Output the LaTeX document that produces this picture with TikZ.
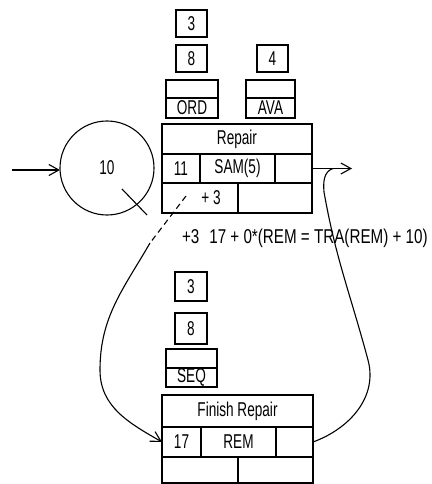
\documentclass[tikz,border=0pt]{standalone}
\usepackage{fontspec}
\setmainfont{Liberation Sans}[FakeStretch=0.68]
\newfontfamily\exprfont{Liberation Sans}[FakeStretch=0.76]
\usetikzlibrary{arrows.meta, positioning, calc}

\begin{document}
\begin{tikzpicture}[
    x=1pt, y=-1pt,
    line width=1.1pt,
    >={Straight Barb[length=10pt, width=11pt]},
    every node/.style={font=\fontsize{20}{22}\selectfont, inner sep=0pt, outer sep=0pt},
    cell/.style 2 args={draw, anchor=north west, minimum width=#1, minimum height=#2},
    place/.style={draw, circle, minimum size=94pt}
]
\useasboundingbox (0,0) rectangle (431,484);

% --- Place ---
\node[place] (place) at (107,168) {10};
\coordinate (src) at (12,170);
\draw[->] (src) -- (src -| place.west);
\draw (122,189) -- (147,215);

% --- Queues above Repair ---
\node[cell={31pt}{27pt}] (ord_q3) at (176,10) {3};
\node[cell={31pt}{27pt}] (ord_q8) at (176,45) {8};
\node[cell={31pt}{27pt}] (ava_q4) at (257,45) {4};
\node[cell={52pt}{18pt}] (ord_top) at (166,80) {};
\node[cell={52pt}{20pt}] (ord) at (166,98) {ORD};
\node[cell={49pt}{18pt}] (ava_top) at (246,80) {};
\node[cell={49pt}{20pt}] (ava) at (246,98) {AVA};

% --- Repair ---
\node[cell={150pt}{30pt}] (rep_title) at (162,124) {Repair};
\node[cell={38pt}{29pt}] (rep_id) at (162,154) {11};
\node[cell={75pt}{29pt}] (rep_res) at (200,154) {SAM(5)};
\node[cell={37pt}{29pt}] (rep_free) at (275,154) {};
\node[cell={76pt}{30pt}] (rep_delay) at (162,183) {\hspace*{22pt}+ 3};
\node[cell={74pt}{30pt}] (rep_out) at (238,183) {};

\coordinate (sink) at (352,169);
\draw[->] (rep_free.east) -- (rep_free.east -| sink);
\coordinate (tap) at ($(rep_free.east)!0.52!(rep_free.east -| sink)$);

% --- Expression ---
\node[anchor=west, font=\exprfont\fontsize{20}{22}\selectfont] (expr) at (182,238) {+3\hspace{10pt}17 + 0*(REM = TRA(REM) + 10)};

% --- Queues above Finish Repair ---
\node[cell={32pt}{29pt}] (seq_q3) at (175,272) {3};
\node[cell={32pt}{31pt}] (seq_q8) at (175,313) {8};
\node[cell={51pt}{19pt}] (seq_top) at (166,349) {};
\node[cell={51pt}{19pt}] (seq) at (166,368) {SEQ};

% --- Finish Repair ---
\node[cell={151pt}{32pt}] (fin_title) at (162,395) {Finish Repair};
\node[cell={39pt}{30pt}] (fin_id) at (162,427) {17};
\node[cell={75pt}{30pt}] (fin_res) at (201,427) {REM};
\node[cell={37pt}{30pt}] (fin_free) at (276,427) {};
\node[cell={76pt}{26pt}] (fin_a) at (162,457) {};
\node[cell={75pt}{26pt}] (fin_b) at (238,457) {};

% --- Arcs ---
\coordinate (d0) at (186,196);
\coordinate (d1) at (150,243);
\draw[dash pattern=on 6pt off 4pt] (d0) -- (d1);
\draw[->] (d1) to[out=240, in=90] (100,370) to[out=270, in=150] (fin_id.west);
\draw (tap) to[out=200, in=95] (324,192) to[out=280, in=105] (368,360) to[out=285, in=20] (fin_free.east);

\end{tikzpicture}
\end{document}
